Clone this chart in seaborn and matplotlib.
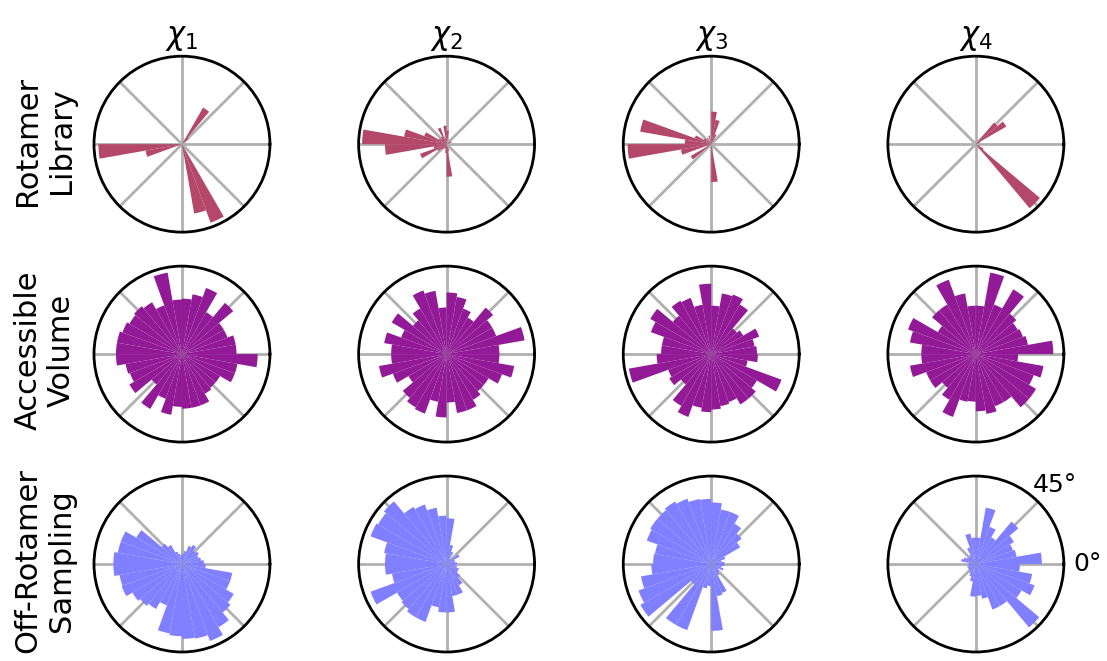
"""
Polar histograms of side-chain dihedrals (chi1..chi4) for three sampling methods.
Output: out.png
"""

import numpy as np
import matplotlib
matplotlib.use("Agg")
import matplotlib.pyplot as plt
import seaborn as sns

# ==========================================
# 1. DATA (bar length relative to outer circle, 36 bins of 10 deg)
# ==========================================
BIN_DEG = np.arange(5, 360, 10)  # bin centres
COL_TITLES = [r"$\chi_1$", r"$\chi_2$", r"$\chi_3$", r"$\chi_4$"]
ROW_LABELS = ["Rotamer\nLibrary", "Accessible\nVolume", "Off-Rotamer\nSampling"]
ROW_COLORS = ["#b3486a", "#921a97", "#7f7fff"]

rotamer_chi1 = [0, 0, 0, 0, 0.10, 0.48, 0, 0, 0, 0, 0, 0,
                0, 0, 0, 0, 0, 0, 0.95, 0.42, 0, 0, 0, 0,
                0, 0, 0, 0, 0.80, 0.95, 0, 0, 0, 0, 0, 0]
rotamer_chi2 = [0, 0, 0.06, 0.05, 0, 0, 0, 0, 0.15, 0.21, 0.08, 0.20,
                0.10, 0.08, 0.10, 0.27, 0.49, 0.96, 0.70, 0.15, 0.32, 0.12, 0.08, 0.06,
                0.05, 0.06, 0.10, 0.37, 0.08, 0, 0, 0, 0, 0, 0, 0]
rotamer_chi3 = [0, 0, 0, 0, 0, 0, 0.12, 0.28, 0.37, 0, 0.10, 0,
                0.08, 0, 0.10, 0.20, 0.82, 0.30, 0.95, 0.35, 0, 0.27, 0, 0,
                0, 0, 0, 0.43, 0, 0, 0, 0, 0, 0, 0, 0]
rotamer_chi4 = [0, 0, 0.05, 0.40, 0.32, 0, 0, 0, 0, 0, 0, 0,
                0, 0, 0, 0, 0, 0, 0, 0, 0, 0, 0, 0,
                0, 0, 0, 0, 0, 0, 0, 0.95, 0.10, 0, 0, 0]

volume_chi1 = [0.62, 0.62, 0.55, 0.55, 0.76, 0.55, 0.80, 0.69, 0.63, 0.62, 0.94, 0.59,
               0.68, 0.71, 0.69, 0.72, 0.75, 0.75, 0.75, 0.65, 0.63, 0.69, 0.45, 0.72,
               0.54, 0.70, 0.60, 0.62, 0.62, 0.62, 0.52, 0.50, 0.50, 0.64, 0.64, 0.86]
volume_chi2 = [0.60, 0.90, 0.60, 0.60, 0.69, 0.48, 0.55, 0.66, 0.70, 0.53, 0.73, 0.77,
               0.60, 0.50, 0.72, 0.55, 0.72, 0.63, 0.63, 0.78, 0.65, 0.50, 0.65, 0.70,
               0.72, 0.55, 0.72, 0.55, 0.68, 0.68, 0.60, 0.55, 0.55, 0.67, 0.78, 0.60]
volume_chi3 = [0.52, 0.50, 0.58, 0.42, 0.38, 0.65, 0.72, 0.70, 0.55, 0.80, 0.57, 0.68,
               0.70, 0.57, 0.80, 0.73, 0.57, 0.57, 0.62, 0.95, 0.52, 0.55, 0.45, 0.68,
               0.76, 0.62, 0.66, 0.63, 0.60, 0.58, 0.66, 0.66, 0.60, 0.85, 0.42, 0.53]
volume_chi4 = [0.88, 0.60, 0.57, 0.55, 0.60, 0.85, 0.60, 0.94, 0.55, 0.55, 0.70, 0.90,
               0.65, 0.65, 0.50, 0.82, 0.76, 0.62, 0.62, 0.76, 0.60, 0.60, 0.50, 0.60,
               0.76, 0.55, 0.54, 0.65, 0.69, 0.63, 0.63, 0.79, 0.79, 0.70, 0.78, 0.48]

offrot_chi1 = [0.25, 0.22, 0.20, 0.22, 0.20, 0.25, 0.22, 0.15, 0.12, 0.10, 0.12, 0.15,
               0.25, 0.30, 0.60, 0.74, 0.74, 0.78, 0.78, 0.72, 0.73, 0.65, 0.62, 0.59,
               0.50, 0.80, 0.82, 0.85, 0.86, 0.93, 0.83, 0.72, 0.68, 0.58, 0.58, 0.27]
offrot_chi2 = [0.12, 0.10, 0.10, 0.17, 0.08, 0.06, 0.15, 0.22, 0.52, 0.55, 0.65, 0.72,
               0.75, 0.93, 0.90, 0.92, 0.72, 0.70, 0.70, 0.63, 0.92, 0.65, 0.67, 0.70,
               0.70, 0.50, 0.55, 0.55, 0.37, 0.37, 0.28, 0.20, 0.15, 0.15, 0.12, 0.10]
offrot_chi3 = [0.15, 0.12, 0.17, 0.38, 0.45, 0.53, 0.63, 0.63, 0.70, 0.74, 0.75, 0.79,
               0.82, 0.80, 0.80, 0.78, 0.65, 0.66, 0.68, 0.81, 0.88, 0.93, 0.30, 0.80,
               0.80, 0.28, 0.25, 0.76, 0.37, 0.35, 0.15, 0.12, 0.10, 0.15, 0.12, 0.15]
offrot_chi4 = [0.75, 0.47, 0.45, 0.50, 0.63, 0.35, 0.45, 0.65, 0.30, 0.30, 0.35, 0.20,
               0.12, 0.10, 0.12, 0.15, 0.17, 0.08, 0.08, 0.10, 0.10, 0.10, 0.10, 0.12,
               0.15, 0.20, 0.37, 0.36, 0.40, 0.55, 0.55, 0.94, 0.60, 0.71, 0.65, 0.50]

GRID = [
    [rotamer_chi1, rotamer_chi2, rotamer_chi3, rotamer_chi4],
    [volume_chi1, volume_chi2, volume_chi3, volume_chi4],
    [offrot_chi1, offrot_chi2, offrot_chi3, offrot_chi4],
]

# ==========================================
# 2. PLOT
# ==========================================
sns.set_style("white")
plt.rcParams["text.color"] = "black"
plt.rcParams["xtick.color"] = "black"

fig, axes = plt.subplots(3, 4, figsize=(11.07, 6.61), dpi=100,
                         subplot_kw={"projection": "polar"})
fig.subplots_adjust(left=0.0849, right=0.961, top=0.915, bottom=0.0136,
                    wspace=0.504, hspace=0.193)

theta = np.deg2rad(BIN_DEG)
width = np.deg2rad(10)
grid_angles = list(range(0, 360, 45))

for r in range(3):
    for c in range(4):
        ax = axes[r, c]
        ax.bar(theta, GRID[r][c], width=width, color=ROW_COLORS[r],
               edgecolor="none", linewidth=0, zorder=2)
        ax.set_ylim(0, 1)
        ax.set_yticks([])
        ax.set_axisbelow(True)

        # only the bottom-right panel gets angle labels
        if r == 2 and c == 3:
            labels = ["0°", "45°"] + [""] * 6
        else:
            labels = [""] * 8
        ax.set_thetagrids(grid_angles, labels=labels)
        ax.tick_params(axis="x", labelsize=18, pad=10, length=0, labelcolor="black")
        ax.grid(True, color="#b0b0b0", linewidth=2.0)
        ax.spines["polar"].set_color("black")
        ax.spines["polar"].set_linewidth(2.0)

        if r == 0:
            ax.set_title(COL_TITLES[c], fontsize=22, pad=9, color="black")
        if c == 0:
            ax.text(-0.28, 0.52, ROW_LABELS[r], transform=ax.transAxes,
                    rotation=90, ha="center", va="center",
                    multialignment="center", fontsize=22, color="black")

plt.savefig("out.png", dpi=100)
plt.close()
